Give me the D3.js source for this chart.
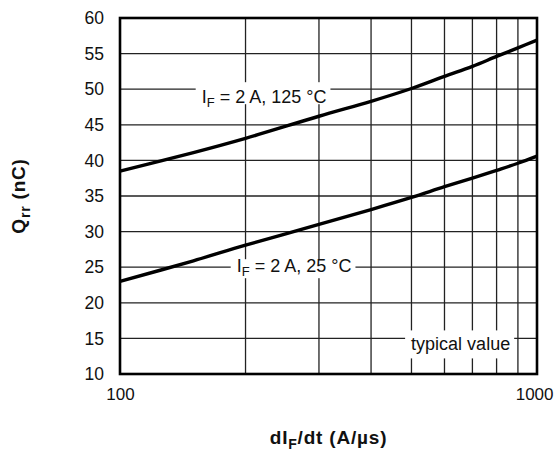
<!DOCTYPE html>
<html>
<head>
<meta charset="utf-8">
<script src="https://cdn.jsdelivr.net/npm/d3@7"></script>
<style>
  body { margin: 0; background: #fff; }
  text { font-family: "Liberation Sans", Arial, sans-serif; fill: #111; }
</style>
</head>
<body>
<script>
// dIF/dt (A/us) and reverse recovery charge Qrr (nC)
let dIdt   = [100, 150, 200, 300, 400, 500, 600, 700, 800, 900, 1000];
let qrr125 = [38.5, 41.1, 43.1, 46.2, 48.3, 50.1, 51.8, 53.2, 54.6, 55.8, 56.9];
let qrr25  = [23.0, 25.9, 28.1, 31.0, 33.1, 34.8, 36.3, 37.5, 38.6, 39.6, 40.6];

let xGrid = [200, 300, 400, 500, 600, 700, 800, 900];
let yTicks = [10, 15, 20, 25, 30, 35, 40, 45, 50, 55, 60];
let xTickLabels = [100, 1000];

let margin = {top: 18, right: 18, bottom: 77, left: 120};
let width = 555 - (margin.left + margin.right);
let height = 451 - (margin.top + margin.bottom);

let xScale = d3.scaleLog()
                .domain([100, 1000])
                .range([0, width]);

let yScale = d3.scaleLinear()
                .domain([10, 60])
                .range([height, 0]);

let svg = d3.select('body').append('svg')
                .attr('width', 555)
                .attr('height', 451)
        .append('g')
                .attr('transform', 'translate(' + margin.left + ', ' + margin.top + ')');

// grid
svg.append('g').selectAll('line')
    .data(xGrid)
  .enter().append('line')
    .attr('x1', d => xScale(d)).attr('x2', d => xScale(d))
    .attr('y1', 0).attr('y2', height)
    .attr('stroke', '#222').attr('stroke-width', 1.3);

svg.append('g').selectAll('line')
    .data(yTicks.slice(1, -1))
  .enter().append('line')
    .attr('x1', 0).attr('x2', width)
    .attr('y1', d => yScale(d)).attr('y2', d => yScale(d))
    .attr('stroke', '#222').attr('stroke-width', 1.3);

// y tick labels
let yAxis = d3.axisLeft(yScale).tickValues(yTicks).tickSize(0).tickPadding(16);
let yg = svg.append('g').call(yAxis);
yg.select('.domain').remove();
yg.selectAll('text').style('font-size', '17.5px').attr('font-family', null);

// x tick labels
let xAxis = d3.axisBottom(xScale).tickValues(xTickLabels).tickFormat(d3.format('d')).tickSize(0).tickPadding(14);
let xg = svg.append('g').attr('transform', 'translate(0, ' + height + ')').call(xAxis);
xg.select('.domain').remove();
xg.selectAll('text').style('font-size', '17px').attr('font-family', null);
// keep "1000" inside the page
xg.selectAll('text').filter(d => d === 1000)
    .attr('text-anchor', 'end').attr('x', 16);

// curves
let line = d3.line()
    .x((d, i) => xScale(dIdt[i]))
    .y(d => yScale(d))
    .curve(d3.curveCatmullRom);

[qrr125, qrr25].forEach(s => {
  svg.append('path')
      .attr('d', line(s))
      .attr('fill', 'none')
      .attr('stroke', '#000')
      .attr('stroke-width', 3.4);
});

// labels with white boxes; parts: [text, dy, isSub]
function label(x, y, base, top, bottom, parts) {
  let g = svg.append('g');
  let rect = g.append('rect').attr('fill', '#fff');
  let t = g.append('text')
      .attr('x', x).attr('y', y + base)
      .style('font-size', '18px');
  parts.forEach(p => {
    t.append('tspan').text(p[0])
        .attr('dy', p[1])
        .style('font-size', p[2] ? '13px' : '18px');
  });
  let b = t.node().getBBox();
  rect.attr('x', b.x - 6).attr('y', y - top)
      .attr('width', b.width + 10).attr('height', top + bottom);
}

label(xScale(157), yScale(50), 14, 7, 15, [['I', 0], ['F', 4, true], [' = 2 A, 125 °C', -4]]);
label(xScale(190.5), yScale(25), 5, 8, 11, [['I', 0], ['F', 4, true], [' = 2 A, 25 °C', -4]]);
label(xScale(499), yScale(15), 12, 8, 20, [['typical value', 0]]);

// frame
svg.append('rect')
    .attr('width', width).attr('height', height)
    .attr('fill', 'none').attr('stroke', '#000').attr('stroke-width', 2.6);

// axis titles
let xt = svg.append('text')
    .attr('x', width / 2).attr('y', height + 70)
    .attr('text-anchor', 'middle')
    .style('font-size', '19px').style('font-weight', 'bold')
    .style('letter-spacing', '0.8px');
xt.append('tspan').text('dI');
xt.append('tspan').text('F').attr('dy', 5).style('font-size', '14px');
xt.append('tspan').text('/dt (A/µs)').attr('dy', -5);

let yt = svg.append('text')
    .attr('transform', 'translate(' + (-95) + ', ' + yScale(35) + ') rotate(-90)')
    .attr('text-anchor', 'middle')
    .style('font-size', '19px').style('font-weight', 'bold')
    .style('letter-spacing', '0.8px');
yt.append('tspan').text('Q');
yt.append('tspan').text('rr').attr('dy', 5).style('font-size', '14px');
yt.append('tspan').text(' (nC)').attr('dy', -5);
</script>
</body>
</html>
